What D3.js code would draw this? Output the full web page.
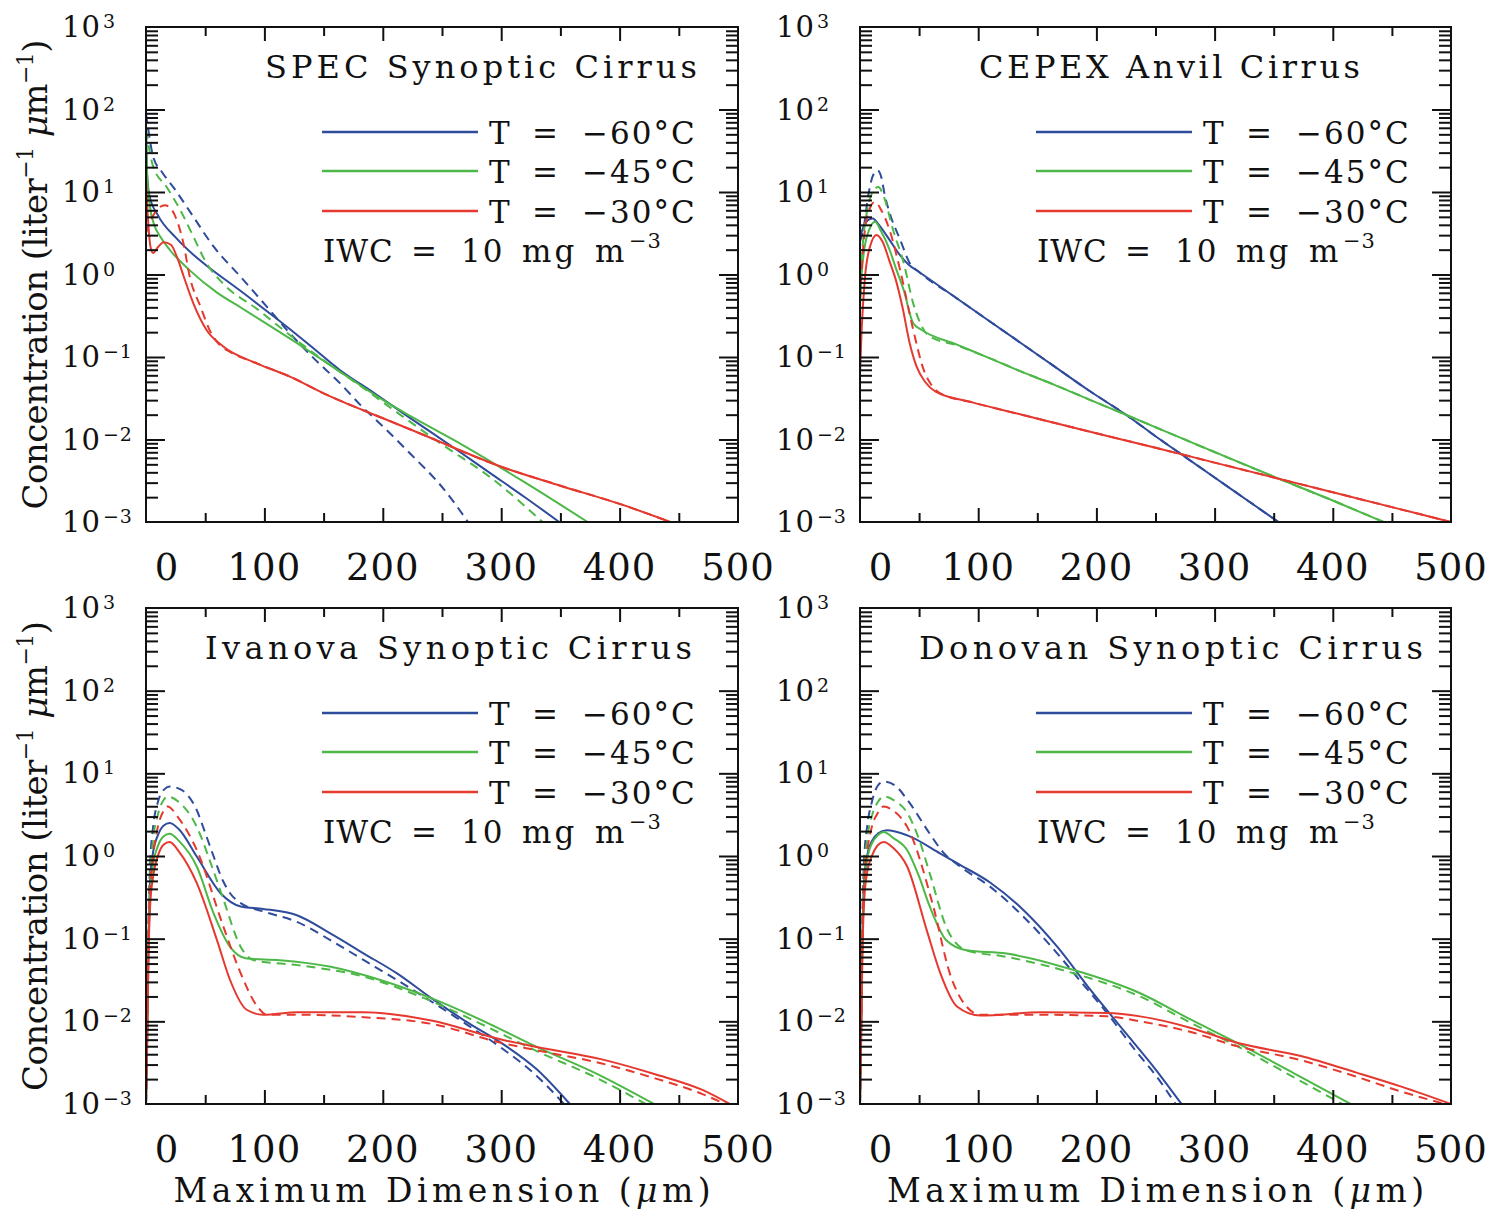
<!DOCTYPE html>
<html>
<head>
<meta charset="utf-8">
<script src="https://cdn.jsdelivr.net/npm/d3@7"></script>
<style>
  body { margin: 0; background: #fff; }
  text { font-family: "DejaVu Serif", serif; fill: #111; }
</style>
</head>
<body>
<script>
// every point is [maximum dimension (um), log10 of concentration (liter^-1 um^-1)]
// a curve stops where it reaches the 10^-3 floor of the plot

var specBlue = [[0,1.8],[1,1.2],[3,0.95],[10,0.72],[25,0.45],[40,0.24],[51,0.11],[80,-0.20],[108,-0.51],[136,-0.83],[164,-1.16],[193,-1.44],[221,-1.72],[260,-2.10],[291,-2.41],[320,-2.70],[349,-3]];
var specBlueDash = [[0,1.95],[2,1.75],[6,1.43],[14,1.23],[23,1.06],[40,0.70],[57,0.34],[80,-0.03],[102,-0.39],[122,-0.72],[142,-1.02],[164,-1.32],[181,-1.58],[200,-1.84],[221,-2.14],[252,-2.61],[272,-3]];
var specGreen = [[0,1.75],[1,1.2],[3.4,0.82],[7,0.6],[12,0.46],[20,0.30],[37,0.05],[60,-0.22],[80,-0.40],[100,-0.58],[122,-0.78],[164,-1.18],[200,-1.52],[225,-1.73],[269,-2.08],[320,-2.52],[373,-3]];
var specGreenDash = [[0,1.75],[3,1.5],[6,1.31],[17.5,1.06],[29,0.78],[40,0.46],[51,0.14],[65,-0.11],[94,-0.42],[122,-0.74],[150,-1.04],[179,-1.33],[207,-1.62],[250,-2.06],[291,-2.46],[335,-3]];
var specRed = [[0,1.15],[2,0.6],[4,0.32],[6,0.26],[10,0.33],[15,0.39],[21,0.36],[27,0.18],[32,-0.03],[40,-0.35],[51,-0.67],[65,-0.87],[94,-1.08],[122,-1.24],[150,-1.44],[179,-1.62],[198,-1.73],[232,-1.93],[300,-2.33],[350,-2.56],[402,-2.79],[443,-3]];
var specRedDash = [[0,0.5],[3,0.62],[8,0.76],[16,0.84],[22,0.78],[27,0.62],[31.6,0.38],[37,-0.03],[46,-0.39],[55,-0.71],[62,-0.85],[70,-0.93],[94,-1.08],[122,-1.24],[150,-1.44],[179,-1.62],[198,-1.73],[232,-1.93],[300,-2.33],[350,-2.56],[402,-2.79],[443,-3]];

var cepexBlue = [[0,0.45],[3,0.58],[7,0.66],[11,0.68],[15,0.62],[25,0.42],[32,0.27],[41,0.12],[50,0.03],[80,-0.27],[109,-0.56],[137,-0.84],[165,-1.12],[193,-1.40],[225,-1.70],[250,-1.96],[275,-2.21],[300,-2.46],[330,-2.76],[354,-3]];
var cepexBlueDash = [[0,0.4],[3,0.56],[7,0.96],[11,1.2],[15,1.26],[18,1.18],[21,0.96],[25,0.75],[34,0.42],[42,0.14],[50,0.03],[80,-0.27],[109,-0.56],[137,-0.84],[165,-1.12],[193,-1.40],[225,-1.70],[250,-1.96],[275,-2.21],[300,-2.46],[330,-2.76],[354,-3]];
var cepexGreen = [[0,-0.4],[1.4,0.0],[4,0.34],[8,0.55],[12.7,0.64],[18,0.52],[25,0.30],[31,0.05],[37,-0.19],[45,-0.59],[52,-0.67],[82,-0.85],[109,-1.01],[137,-1.18],[165,-1.34],[193,-1.51],[225,-1.70],[273,-1.99],[350,-2.45],[400,-2.74],[443,-3]];
var cepexGreenDash = [[0,-0.2],[2,0.3],[5.6,0.74],[10,0.98],[15.5,1.06],[20,0.95],[28,0.54],[37,0.14],[45,-0.35],[51,-0.59],[58,-0.74],[82,-0.86],[109,-1.01],[137,-1.18],[165,-1.34],[193,-1.51],[225,-1.70],[273,-1.99],[350,-2.45],[400,-2.74],[443,-3]];
var cepexRed = [[0,-1.2],[1.4,-0.67],[4,-0.07],[8.5,0.34],[14,0.48],[19,0.40],[25,0.16],[30,-0.05],[36,-0.40],[42,-0.83],[48,-1.12],[55,-1.30],[64,-1.42],[95,-1.55],[137,-1.70],[193,-1.90],[250,-2.10],[300,-2.28],[350,-2.46],[400,-2.64],[450,-2.82],[500,-3]];
var cepexRedDash = [[0,-0.3],[3,0.38],[7,0.75],[12.7,0.88],[18,0.78],[25,0.54],[34,0.05],[45,-0.67],[54,-1.16],[60,-1.33],[68,-1.44],[95,-1.55],[137,-1.70],[193,-1.90],[250,-2.10],[300,-2.28],[350,-2.46],[400,-2.64],[450,-2.82],[500,-3]];

var ivanovaBlue = [[0,-3],[1,-2.1],[2,-1.1],[3.5,-0.3],[6,0.05],[10,0.25],[15,0.37],[20,0.40],[28,0.32],[43,-0.01],[63,-0.45],[80,-0.61],[99,-0.64],[128,-0.72],[156,-0.94],[184,-1.18],[212,-1.42],[241,-1.72],[270,-2.0],[300,-2.26],[330,-2.58],[358,-3]];
var ivanovaBlueDash = [[0,-3],[1,-2.0],[2,-0.9],[3.5,-0.1],[6,0.35],[10,0.65],[15,0.80],[20,0.84],[30,0.80],[43,0.55],[50,0.28],[57,0.0],[65,-0.30],[71,-0.45],[80,-0.57],[99,-0.67],[128,-0.80],[156,-1.02],[184,-1.26],[212,-1.50],[241,-1.76],[270,-2.03],[300,-2.32],[330,-2.66],[353,-3]];
var ivanovaGreen = [[0,-3],[1,-2.2],[2,-1.2],[3.5,-0.45],[6,-0.1],[10,0.12],[15,0.24],[20,0.27],[28,0.18],[43,-0.13],[57,-0.69],[71,-1.10],[85,-1.24],[113,-1.26],[156,-1.34],[198,-1.50],[241,-1.72],[290,-2.03],[330,-2.31],[380,-2.63],[429,-3]];
var ivanovaGreenDash = [[0,-3],[1,-2.1],[2,-1.0],[3.5,-0.25],[6,0.2],[10,0.5],[15,0.68],[18,0.72],[28,0.65],[43,0.35],[55,-0.10],[65.5,-0.53],[80,-1.10],[91,-1.26],[128,-1.32],[184,-1.46],[235,-1.72],[290,-2.08],[330,-2.36],[380,-2.68],[422,-3]];
var ivanovaRed = [[0,-3],[1,-2.3],[2,-1.3],[3.5,-0.6],[6,-0.25],[10,0.0],[15,0.14],[20,0.17],[28,0.05],[43,-0.33],[60,-1.02],[71,-1.50],[85,-1.86],[99,-1.92],[128,-1.89],[184,-1.89],[241,-1.99],[300,-2.22],[330,-2.31],[385,-2.46],[430,-2.64],[470,-2.83],[493,-3]];
var ivanovaRedDash = [[0,-3],[1,-2.2],[2,-1.1],[3.5,-0.4],[6,0.0],[10,0.35],[15,0.55],[18,0.60],[28,0.45],[43,0.07],[65.5,-0.86],[80,-1.42],[94,-1.82],[102,-1.92],[128,-1.92],[184,-1.95],[241,-2.03],[300,-2.26],[330,-2.35],[385,-2.51],[430,-2.69],[470,-2.88],[489,-3]];

var donovanBlue = [[0,-3],[1,-2.0],[2,-1.0],[3.5,-0.3],[6,0.0],[10,0.18],[15,0.27],[22.6,0.31],[40,0.25],[68,0.03],[85,-0.11],[110,-0.32],[138,-0.65],[167,-1.10],[195,-1.62],[223,-2.11],[250,-2.58],[272,-3]];
var donovanBlueDash = [[0,-3],[1,-1.9],[2,-0.8],[3.5,-0.05],[6,0.35],[10,0.65],[15,0.85],[20,0.90],[30,0.85],[40,0.68],[59,0.27],[70,0.05],[85,-0.13],[110,-0.37],[138,-0.73],[167,-1.18],[181,-1.42],[209,-1.90],[234,-2.37],[250,-2.65],[267,-3]];
var donovanGreen = [[0,-3],[1,-2.1],[2,-1.1],[3.5,-0.4],[6,-0.05],[10,0.15],[15,0.25],[20,0.29],[28,0.22],[40,0.07],[50,-0.25],[59,-0.61],[73,-1.02],[90,-1.14],[124,-1.18],[181,-1.38],[237,-1.66],[280,-1.98],[319,-2.26],[370,-2.65],[415,-3]];
var donovanGreenDash = [[0,-3],[1,-2.0],[2,-0.9],[3.5,-0.2],[6,0.2],[10,0.48],[15,0.65],[20,0.72],[28,0.68],[40,0.52],[50,0.20],[59,-0.21],[73,-0.86],[90,-1.14],[124,-1.22],[181,-1.42],[237,-1.70],[280,-2.02],[319,-2.30],[370,-2.70],[408,-3]];
var donovanRed = [[0,-3],[1,-2.2],[2,-1.2],[3.5,-0.55],[6,-0.2],[10,0.0],[15,0.13],[20,0.17],[28,0.10],[40,-0.13],[56.5,-0.90],[68,-1.42],[82,-1.82],[102,-1.93],[153,-1.89],[209,-1.90],[237,-1.94],[280,-2.08],[319,-2.26],[373,-2.42],[420,-2.62],[458,-2.79],[500,-3]];
var donovanRedDash = [[0,-3],[1,-2.1],[2,-1.0],[3.5,-0.3],[6,0.05],[10,0.35],[15,0.52],[20,0.60],[28,0.55],[40,0.35],[62,-0.61],[76,-1.42],[90,-1.82],[102,-1.92],[153,-1.92],[209,-1.94],[237,-2.0],[280,-2.13],[319,-2.30],[373,-2.47],[420,-2.67],[458,-2.85],[495,-3]];

var temps = ['\u221260', '\u221245', '\u221230'];
var colors = ['#2f4b9b', '#4db847', '#e5392f'];
var xLabels = [0, 100, 200, 300, 400, 500];
var decades = [-3, -2, -1, 0, 1, 2, 3];

(function() {
  var w = 1493;
  var h = 1210;

  var svg = d3
    .select('body')
    .append('svg')
    .attr('width', w)
    .attr('height', h);

  svg.append('rect').attr('width', w).attr('height', h).attr('fill', '#fff');

  var cols = [[146, 738], [860, 1451]];
  var rows = [[522, 27], [1104, 608]];

  var panels = [
    { title: 'SPEC Synoptic Cirrus', col: 0, row: 0, titleDx: 119, titleLen: 432,
      lines: [specBlue, specBlueDash, specGreen, specGreenDash, specRed, specRedDash] },
    { title: 'CEPEX Anvil Cirrus', col: 1, row: 0, titleDx: 119, titleLen: 381,
      lines: [cepexBlue, cepexBlueDash, cepexGreen, cepexGreenDash, cepexRed, cepexRedDash] },
    { title: 'Ivanova Synoptic Cirrus', col: 0, row: 1, titleDx: 59, titleLen: 487,
      lines: [ivanovaBlue, ivanovaBlueDash, ivanovaGreen, ivanovaGreenDash, ivanovaRed, ivanovaRedDash] },
    { title: 'Donovan Synoptic Cirrus', col: 1, row: 1, titleDx: 59, titleLen: 504,
      lines: [donovanBlue, donovanBlueDash, donovanGreen, donovanGreenDash, donovanRed, donovanRedDash] }
  ];

  function styleTicks(g) {
    g.select('.domain').remove();
    g.selectAll('line').attr('stroke', '#111').attr('stroke-width', 2);
  }

  panels.forEach(function(p, i) {
    var xr = cols[p.col];
    var yr = rows[p.row];
    var left = xr[0], right = xr[1], bottom = yr[0], top = yr[1];

    var x = d3.scaleLinear().domain([0, 500]).range(xr);
    var y = d3.scaleLog().domain([1e-3, 1e3]).range(yr);

    var g = svg.append('g');

    svg.append('clipPath').attr('id', 'clip' + i)
      .append('rect')
      .attr('x', left).attr('y', top - 1)
      .attr('width', right - left).attr('height', bottom - top + 2);

    var line = d3.line()
      .x(d => x(d[0]))
      .y(d => y(Math.pow(10, d[1])))
      .curve(d3.curveMonotoneX);

    g.append('g')
      .attr('clip-path', 'url(#clip' + i + ')')
      .selectAll('path')
      .data(p.lines)
      .enter()
      .append('path')
      .attr('d', line)
      .attr('fill', 'none')
      .attr('stroke', (d, k) => colors[Math.floor(k / 2)])
      .attr('stroke-width', 2)
      .attr('stroke-dasharray', (d, k) => (k % 2 ? '9,6' : null));

    // ticks, all pointing inward
    var minorY = y.ticks().filter(v => Math.abs(Math.log10(v) - Math.round(Math.log10(v))) > 1e-6);
    var majorY = decades.map(k => Math.pow(10, k)).slice(1, -1);

    g.append('g').attr('transform', 'translate(0,' + bottom + ')')
      .call(d3.axisBottom(x).tickValues([100, 200, 300, 400]).tickSize(-14).tickSizeOuter(0).tickFormat(''))
      .call(styleTicks);
    g.append('g').attr('transform', 'translate(0,' + bottom + ')')
      .call(d3.axisBottom(x).tickValues([50, 150, 250, 350, 450]).tickSize(-9).tickSizeOuter(0).tickFormat(''))
      .call(styleTicks);
    g.append('g').attr('transform', 'translate(0,' + top + ')')
      .call(d3.axisTop(x).tickValues([100, 200, 300, 400]).tickSize(-14).tickSizeOuter(0).tickFormat(''))
      .call(styleTicks);
    g.append('g').attr('transform', 'translate(0,' + top + ')')
      .call(d3.axisTop(x).tickValues([50, 150, 250, 350, 450]).tickSize(-9).tickSizeOuter(0).tickFormat(''))
      .call(styleTicks);
    g.append('g').attr('transform', 'translate(' + left + ',0)')
      .call(d3.axisLeft(y).tickValues(majorY).tickSize(-19).tickSizeOuter(0).tickFormat(''))
      .call(styleTicks);
    g.append('g').attr('transform', 'translate(' + left + ',0)')
      .call(d3.axisLeft(y).tickValues(minorY).tickSize(-12).tickSizeOuter(0).tickFormat(''))
      .call(styleTicks);
    g.append('g').attr('transform', 'translate(' + right + ',0)')
      .call(d3.axisRight(y).tickValues(majorY).tickSize(-19).tickSizeOuter(0).tickFormat(''))
      .call(styleTicks);
    g.append('g').attr('transform', 'translate(' + right + ',0)')
      .call(d3.axisRight(y).tickValues(minorY).tickSize(-12).tickSizeOuter(0).tickFormat(''))
      .call(styleTicks);

    // frame
    g.append('rect')
      .attr('x', left).attr('y', top)
      .attr('width', right - left).attr('height', bottom - top)
      .attr('fill', 'none').attr('stroke', '#111').attr('stroke-width', 2);

    // x tick labels
    g.selectAll('text.xl')
      .data(xLabels)
      .enter()
      .append('text')
      .attr('class', 'xl')
      .attr('x', d => x(d) + (d === 0 ? 21 : 0))
      .attr('y', bottom + 58)
      .attr('text-anchor', 'middle')
      .attr('font-size', 37)
      .attr('letter-spacing', 1)
      .text(d => d);

    // y tick labels 10^k
    var yl = g.selectAll('text.yl')
      .data(decades)
      .enter()
      .append('text')
      .attr('class', 'yl')
      .attr('x', left - 84)
      .attr('y', d => y(Math.pow(10, d)) + 10)
      .attr('font-size', 29)
      .attr('letter-spacing', 1);
    yl.append('tspan').text('10');
    yl.append('tspan')
      .attr('dx', 2)
      .attr('dy', -9)
      .attr('font-size', 19)
      .text(d => (d < 0 ? '\u2212' + (-d) : d));

    // title
    g.append('text')
      .attr('x', left + p.titleDx)
      .attr('y', top + 51)
      .attr('font-size', 32)
      .attr('textLength', p.titleLen)
      .attr('lengthAdjust', 'spacing')
      .text(p.title);

    // legend
    var legY = [105, 144, 184];
    var lx = left + 343;
    temps.forEach(function(t, k) {
      g.append('line')
        .attr('x1', left + 176).attr('x2', left + 332)
        .attr('y1', top + legY[k]).attr('y2', top + legY[k])
        .attr('stroke', colors[k]).attr('stroke-width', 2.5);
      var lt = g.append('text')
        .attr('y', top + legY[k] + 12)
        .attr('font-size', 31);
      lt.append('tspan').attr('x', lx).text('T');
      lt.append('tspan').attr('x', lx + 43).text('=');
      lt.append('tspan').attr('x', lx + 93).attr('letter-spacing', 2).text(t + '\u00b0C');
    });

    var iwc = g.append('text')
      .attr('y', top + 235)
      .attr('font-size', 31);
    var ix = left + 177;
    iwc.append('tspan').attr('x', ix).attr('letter-spacing', 1).text('IWC');
    iwc.append('tspan').attr('x', ix + 88).text('=');
    iwc.append('tspan').attr('x', ix + 138).attr('letter-spacing', 2).text('10');
    iwc.append('tspan').attr('x', ix + 199).attr('letter-spacing', 3).text('mg');
    iwc.append('tspan').attr('x', ix + 272).attr('letter-spacing', 2).text('m');
    iwc.append('tspan').attr('x', ix + 306).attr('dy', -14).attr('font-size', 21).attr('letter-spacing', 1).text('\u22123');

    // axis titles
    if (p.col === 0) {
      var yt = g.append('text')
        .attr('transform', 'translate(47,' + (top + bottom) / 2 + ') rotate(-90)')
        .attr('text-anchor', 'middle')
        .attr('font-size', 34)
        .style('white-space', 'pre')
        .attr('textLength', 470)
        .attr('lengthAdjust', 'spacing');
      yt.append('tspan').text('Concentration (liter');
      yt.append('tspan').attr('dy', -14).attr('font-size', 22).text('\u22121');
      yt.append('tspan').attr('dy', 14).text(' ');
      yt.append('tspan').attr('font-style', 'italic').text('\u03bc');
      yt.append('tspan').text('m');
      yt.append('tspan').attr('dy', -14).attr('font-size', 22).text('\u22121');
      yt.append('tspan').attr('dy', 14).text(')');
    }
    if (p.row === 1) {
      var xt = g.append('text')
        .attr('x', (left + right) / 2)
        .attr('y', 1202)
        .attr('text-anchor', 'middle')
        .attr('font-size', 33)
        .attr('textLength', 537)
        .attr('lengthAdjust', 'spacing');
      xt.append('tspan').text('Maximum Dimension (');
      xt.append('tspan').attr('font-style', 'italic').text('\u03bc');
      xt.append('tspan').text('m)');
    }
  });
})();
</script>
</body>
</html>
